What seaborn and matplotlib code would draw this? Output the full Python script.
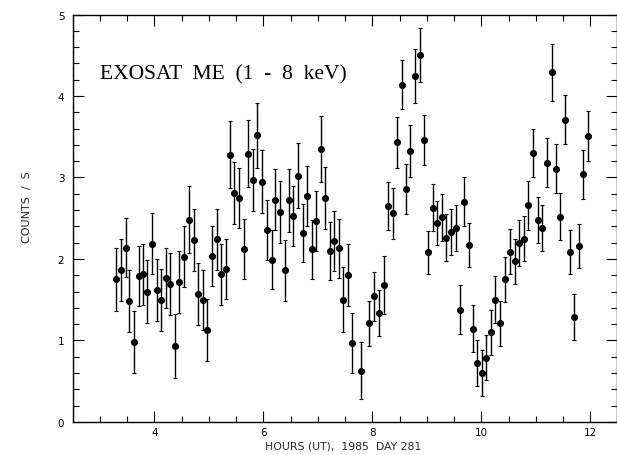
import numpy as np
import pandas as pd
import matplotlib
matplotlib.use("Agg")
import matplotlib.pyplot as plt
from matplotlib.ticker import MultipleLocator
import seaborn as sns

hours = [3.30, 3.38, 3.47, 3.54, 3.63, 3.71, 3.79, 3.87, 3.96, 4.04,
         4.12, 4.21, 4.29, 4.38, 4.46, 4.55, 4.64, 4.73, 4.80, 4.89,
         4.97, 5.06, 5.15, 5.22, 5.31, 5.39, 5.47, 5.56, 5.65, 5.72,
         5.81, 5.89, 5.97, 6.06, 6.15, 6.22, 6.31, 6.39, 6.47, 6.55,
         6.64, 6.72, 6.80, 6.89, 6.97, 7.05, 7.14, 7.22, 7.30, 7.38,
         7.46, 7.55, 7.62, 7.80, 7.94, 8.03, 8.12, 8.21, 8.29, 8.38,
         8.45, 8.54, 8.61, 8.70, 8.78, 8.87, 8.94, 9.03, 9.12, 9.19,
         9.28, 9.36, 9.45, 9.53, 9.61, 9.69, 9.78, 9.85, 9.93, 10.01,
         10.09, 10.17, 10.26, 10.34, 10.43, 10.52, 10.61, 10.69, 10.78, 10.86,
         10.94, 11.04, 11.12, 11.20, 11.29, 11.37, 11.45, 11.54, 11.62, 11.70,
         11.79, 11.87, 11.95]

counts = [1.75, 1.86, 2.14, 1.48, 0.985, 1.79, 1.81, 1.60, 2.19, 1.62,
          1.50, 1.77, 1.69, 0.93, 1.72, 2.03, 2.48, 2.23, 1.57, 1.50,
          1.125, 2.04, 2.24, 1.81, 1.88, 3.28, 2.81, 2.75, 2.12, 3.29,
          2.97, 3.52, 2.95, 2.36, 1.99, 2.73, 2.58, 1.86, 2.72, 2.53,
          3.02, 2.32, 2.77, 2.12, 2.47, 3.35, 2.75, 2.10, 2.22, 2.13,
          1.50, 1.80, 0.965, 0.63, 1.21, 1.54, 1.34, 1.68, 2.65, 2.56,
          3.43, 4.14, 2.86, 3.33, 4.25, 4.50, 3.46, 2.08, 2.63, 2.44,
          2.51, 2.26, 2.33, 2.38, 1.38, 2.70, 2.17, 1.145, 0.72, 0.60,
          0.79, 1.10, 1.50, 1.21, 1.75, 2.09, 1.97, 2.20, 2.25, 2.66,
          3.30, 2.48, 2.38, 3.18, 4.29, 3.11, 2.52, 3.71, 2.09, 1.29,
          2.16, 3.04, 3.51]

errors = [0.39, 0.38, 0.36, 0.38, 0.38, 0.37, 0.37, 0.39, 0.37, 0.38,
          0.38, 0.37, 0.38, 0.39, 0.38, 0.37, 0.41, 0.38, 0.38, 0.37,
          0.38, 0.37, 0.37, 0.38, 0.37, 0.41, 0.38, 0.37, 0.37, 0.41,
          0.38, 0.40, 0.39, 0.37, 0.36, 0.38, 0.38, 0.37, 0.39, 0.37,
          0.40, 0.36, 0.37, 0.36, 0.37, 0.41, 0.38, 0.36, 0.37, 0.36,
          0.40, 0.38, 0.37, 0.35, 0.28, 0.30, 0.28, 0.36, 0.30, 0.31,
          0.31, 0.30, 0.31, 0.32, 0.33, 0.33, 0.31, 0.26, 0.29, 0.27,
          0.29, 0.29, 0.28, 0.28, 0.30, 0.30, 0.27, 0.29, 0.28, 0.28,
          0.28, 0.28, 0.29, 0.28, 0.28, 0.28, 0.28, 0.28, 0.28, 0.30,
          0.30, 0.28, 0.28, 0.30, 0.35, 0.30, 0.29, 0.30, 0.27, 0.28,
          0.27, 0.30, 0.31]

x_ticks = [4, 6, 8, 10, 12]
y_ticks = [0, 1, 2, 3, 4, 5]

df = pd.DataFrame({"hours": hours, "counts": counts, "err": errors})

sns.set_theme(style="ticks")
plt.rcParams['font.family'] = ['DejaVu Sans']

fig = plt.figure(figsize=(6.17, 4.56), dpi=100)
ax = fig.add_axes([0.1178, 0.0724, 0.8830, 0.8936])

ax.errorbar(df["hours"], df["counts"], yerr=df["err"], fmt="none",
            ecolor="black", elinewidth=1.0, capsize=1.5, capthick=0.8)
sns.scatterplot(data=df, x="hours", y="counts", ax=ax, color="black",
                s=26, edgecolor="black", linewidth=0, zorder=3)

ax.set_xlim(2.5, 12.5)
ax.set_ylim(0, 5)
ax.set_xticks(x_ticks)
ax.set_yticks(y_ticks)
ax.xaxis.set_minor_locator(MultipleLocator(0.5))
ax.yaxis.set_minor_locator(MultipleLocator(0.2))
ax.tick_params(which="both", direction="in", top=True, right=True,
               labelsize=7.5, colors="black", width=0.8)
ax.tick_params(which="major", length=8)
ax.tick_params(axis="x", which="major", pad=3.5)
ax.tick_params(axis="y", which="major", pad=6)
ax.tick_params(which="minor", length=4)
for sp in ax.spines.values():
    sp.set_linewidth(1.0)
    sp.set_color("black")

ax.set_xlabel("")
ax.set_ylabel("")
fig.text(343 / 617, 1 - 446.5 / 456, "HOURS (UT),  1985  DAY 281",
         ha="center", va="center", fontsize=7.8)
fig.text(27 / 617, 1 - 207 / 456, "COUNTS  /  S", rotation=90,
         ha="center", va="center", fontsize=8)

ax.text(3.0, 4.27, "EXOSAT  ME  (1  -  8  keV)", family="Liberation Serif",
        fontsize=15.5, ha="left", va="center", color="black")

fig.savefig("out.png", dpi=100)
